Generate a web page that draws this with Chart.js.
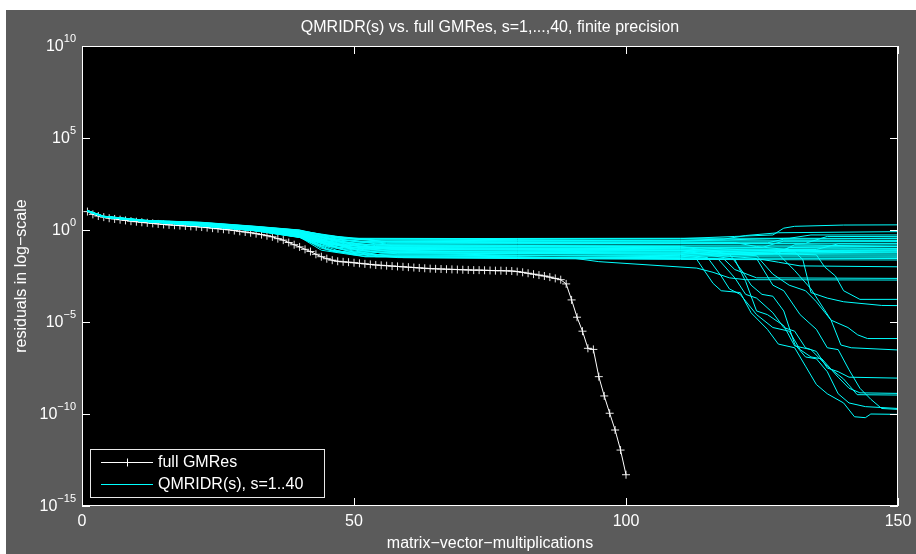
<!DOCTYPE html>
<html>
<head>
<meta charset="utf-8">
<script src="https://cdn.jsdelivr.net/npm/chart.js@4.4.1/dist/chart.umd.min.js"></script>
<style>
  html, body { margin: 0; padding: 0; background: #fff; }
  #wrap { width: 916px; height: 554px; }
</style>
</head>
<body>
<div id="wrap"><canvas id="chart" width="916" height="554"></canvas></div>
<script>
// texts
const titleText = 'QMRIDR(s) vs. full GMRes, s=1,...,40, finite precision';
const xLabelText = 'matrix\u2212vector\u2212multiplications';
const yLabelText = 'residuals in log\u2212scale';
const legendLabels = ['full GMRes', 'QMRIDR(s), s=1..40'];

// tick values
const xTicks = [0, 50, 100, 150];
const yTickExponents = [-15, -10, -5, 0, 5, 10];

// full GMRes, log10 of residual at x = 1..100
const gmresLog = [
  1.00, 0.85, 0.76, 0.70, 0.64, 0.60, 0.56, 0.52, 0.48, 0.45,
  0.42, 0.39, 0.36, 0.33, 0.30, 0.28, 0.26, 0.24, 0.22, 0.20,
  0.18, 0.16, 0.13, 0.10, 0.07, 0.04, 0.01, -0.03, -0.07, -0.11,
  -0.15, -0.20, -0.25, -0.31, -0.37, -0.47, -0.55, -0.68, -0.80, -0.92,
  -1.05, -1.17, -1.32, -1.45, -1.56, -1.64, -1.70, -1.73, -1.75, -1.78,
  -1.81, -1.84, -1.87, -1.90, -1.92, -1.94, -1.96, -1.98, -2.00, -2.02,
  -2.04, -2.06, -2.08, -2.10, -2.11, -2.12, -2.13, -2.14, -2.15, -2.16,
  -2.17, -2.18, -2.18, -2.19, -2.20, -2.21, -2.21, -2.22, -2.23, -2.26,
  -2.30, -2.35, -2.40, -2.45, -2.50, -2.56, -2.63, -2.70, -2.93, -3.80,
  -4.74, -5.50, -6.43, -6.49, -7.97, -9.02, -9.96, -10.87, -11.96, -13.30
];

// QMRIDR(s), s=1..40: [x, log10 residual]
const qmridrLog = [
  [[1,1.06],[4,0.75],[12,0.52],[22,0.42],[32,0.2],[40,0.0],[44,-0.25],[49,-0.45],[80,-0.47],[110,-0.47],[120,-0.35],[127,-0.27],[129,0.1],[131,0.2],[140,0.27],[150,0.28]],
  [[1,1.05],[4,0.74],[12,0.51],[22,0.4],[32,0.18],[40,-0.02],[45,-0.3],[51,-0.5],[80,-0.52],[110,-0.55],[118,-0.5],[122,-0.3],[128,-0.15],[150,-0.09]],
  [[1,1.05],[4,0.74],[12,0.5],[22,0.38],[32,0.15],[40,-0.05],[47,-0.35],[54,-0.55],[80,-0.58],[110,-0.6],[130,-0.45],[134,-0.27],[150,-0.27]],
  [[1,1.06],[4,0.75],[12,0.52],[22,0.41],[32,0.19],[40,-0.01],[43,-0.28],[48,-0.48],[80,-0.46],[110,-0.45],[150,-0.45]],
  [[1,1.05],[4,0.74],[12,0.5],[22,0.37],[32,0.14],[40,-0.07],[46,-0.4],[55,-0.6],[80,-0.58],[110,-0.56],[150,-0.55]],
  [[1,1.04],[4,0.73],[12,0.5],[22,0.36],[32,0.13],[40,-0.1],[48,-0.45],[57,-0.65],[80,-0.68],[110,-0.7],[126,-0.7],[129,-0.5],[150,-0.45]],
  [[1,1.04],[4,0.73],[12,0.49],[22,0.35],[32,0.11],[40,-0.12],[44,-0.5],[50,-0.7],[80,-0.68],[110,-0.65],[150,-0.63]],
  [[1,1.04],[4,0.73],[12,0.49],[22,0.34],[32,0.1],[40,-0.14],[47,-0.55],[56,-0.75],[80,-0.74],[110,-0.73],[150,-0.72]],
  [[1,1.04],[4,0.73],[12,0.49],[22,0.33],[32,0.09],[40,-0.17],[45,-0.6],[53,-0.8],[80,-0.81],[110,-0.82],[150,-0.82]],
  [[1,1.03],[4,0.72],[12,0.47],[22,0.27],[32,0.0],[40,-0.3],[49,-0.9],[58,-1.2],[80,-1.22],[110,-1.25],[128,-1.25],[131,-0.8],[150,-0.9]],
  [[1,1.04],[4,0.73],[12,0.48],[22,0.32],[32,0.07],[40,-0.2],[46,-0.65],[52,-0.9],[80,-0.93],[110,-0.96],[150,-0.99]],
  [[1,1.04],[4,0.72],[12,0.48],[22,0.31],[32,0.06],[40,-0.22],[48,-0.7],[55,-0.95],[80,-0.98],[110,-1.02],[150,-1.05]],
  [[1,1.03],[4,0.72],[12,0.48],[22,0.3],[32,0.05],[40,-0.24],[45,-0.75],[51,-1.0],[80,-1.05],[110,-1.1],[150,-1.13]],
  [[1,1.03],[4,0.72],[12,0.48],[22,0.29],[32,0.04],[40,-0.26],[47,-0.8],[57,-1.05],[80,-1.1],[110,-1.15],[150,-1.18]],
  [[1,1.03],[4,0.72],[12,0.47],[22,0.28],[32,0.02],[40,-0.28],[44,-0.85],[53,-1.1],[80,-1.15],[110,-1.2],[150,-1.23]],
  [[1,1.03],[4,0.72],[12,0.47],[22,0.27],[32,0.01],[40,-0.3],[49,-0.9],[56,-1.15],[80,-1.2],[110,-1.26],[150,-1.3]],
  [[1,1.03],[4,0.71],[12,0.47],[22,0.26],[32,0.0],[40,-0.32],[46,-0.95],[50,-1.2],[80,-1.27],[110,-1.32],[150,-1.36]],
  [[1,1.02],[4,0.71],[12,0.46],[22,0.25],[32,-0.02],[40,-0.35],[48,-1.02],[58,-1.3],[80,-1.35],[110,-1.39],[150,-1.42]],
  [[1,1.02],[4,0.71],[12,0.46],[22,0.24],[32,-0.03],[40,-0.37],[45,-1.07],[54,-1.35],[80,-1.4],[110,-1.45],[150,-1.48]],
  [[1,1.02],[4,0.71],[12,0.46],[22,0.23],[32,-0.04],[40,-0.39],[47,-1.12],[52,-1.45],[80,-1.5],[110,-1.53],[150,-1.55]],
  [[1,1.02],[4,0.71],[12,0.46],[22,0.22],[32,-0.05],[40,-0.4],[49,-1.15],[59,-1.5],[80,-1.55],[110,-1.6],[150,-1.63]],
  [[1,1.05],[4,0.74],[12,0.5],[22,0.37],[32,0.14],[40,-0.08],[44,-0.42],[51,-0.62],[80,-0.63],[110,-0.65],[120,-0.68],[124,-0.9],[131,-1.1],[150,-1.1]],
  [[1,1.04],[4,0.73],[12,0.49],[22,0.35],[32,0.12],[40,-0.11],[46,-0.48],[56,-0.7],[80,-0.71],[110,-0.72],[133,-0.72],[137,-0.35],[150,-0.36]],
  [[1,1.04],[4,0.73],[12,0.48],[22,0.32],[32,0.08],[40,-0.19],[48,-0.63],[53,-0.88],[80,-0.9],[110,-0.93],[125,-0.95],[129,-0.6],[150,-0.58]],
  [[1,1.03],[4,0.72],[12,0.48],[22,0.3],[32,0.05],[40,-0.23],[45,-0.74],[57,-1.0],[80,-1.02],[110,-1.04],[135,-1.06],[139,-0.75],[150,-0.75]],
  [[1,1.04],[4,0.73],[12,0.49],[22,0.33],[32,0.1],[40,-0.16],[47,-0.58],[50,-0.8],[80,-0.84],[110,-0.87],[150,-0.9]],
  [[1,1.03],[4,0.71],[12,0.47],[22,0.26],[32,-0.01],[40,-0.33],[49,-0.98],[55,-1.25],[80,-1.28],[110,-1.3],[127,-1.3],[130,-0.95],[150,-1.0]],
  [[1,1.02],[4,0.71],[12,0.46],[22,0.22],[32,-0.05],[40,-0.41],[46,-1.16],[58,-1.5],[80,-1.53],[110,-1.56],[125,-1.6],[128,-1.75],[132,-1.95],[150,-2.0]],
  [[1,1.02],[4,0.71],[12,0.46],[22,0.23],[32,-0.04],[40,-0.38],[44,-1.1],[52,-1.45],[80,-1.48],[110,-1.5],[118,-1.58],[120,-2.15],[124,-2.6],[150,-2.63]],
  [[1,1.02],[4,0.71],[12,0.46],[22,0.24],[32,-0.03],[40,-0.36],[48,-1.05],[56,-1.4],[80,-1.45],[90,-1.52],[95,-1.72],[113,-2.07],[116,-2.3],[119,-2.6],[122,-2.7],[150,-2.72]],
  [[1,1.04],[4,0.72],[12,0.48],[22,0.31],[32,0.06],[40,-0.21],[45,-0.7],[49,-0.95],[80,-1.0],[110,-1.1],[135,-1.35],[136.5,-2.0],[138.5,-2.5],[140,-3.3],[143,-3.77],[150,-3.77]],
  [[1,1.04],[4,0.73],[12,0.49],[22,0.33],[32,0.08],[40,-0.18],[47,-0.6],[54,-0.85],[80,-0.88],[110,-0.92],[131,-1.2],[132.5,-1.6],[134,-3.4],[137,-3.7],[140,-3.9],[147,-4.1],[150,-4.11]],
  [[1,1.04],[4,0.72],[12,0.48],[22,0.31],[32,0.06],[40,-0.21],[46,-0.7],[53,-0.95],[80,-0.98],[110,-1.02],[128,-1.3],[131,-2.2],[134,-3.2],[137.7,-4.9],[140.8,-5.3],[142.6,-5.7],[144.4,-5.9],[150,-5.9]],
  [[1,1.03],[4,0.72],[12,0.48],[22,0.29],[32,0.03],[40,-0.25],[48,-0.8],[57,-1.05],[80,-1.08],[110,-1.12],[124,-1.4],[127,-2.4],[130,-3.0],[133,-3.3],[135,-3.9],[137.7,-4.9],[139.5,-6.25],[141.4,-6.4],[150,-6.52]],
  [[1,1.02],[4,0.71],[12,0.46],[22,0.25],[32,-0.02],[40,-0.35],[44,-1.0],[50,-1.35],[80,-1.38],[110,-1.42],[117,-1.6],[120,-2.6],[122,-3.5],[124,-3.7],[127,-4.5],[129,-5.3],[131,-5.5],[133,-6.4],[135,-6.6],[137,-7.5],[139,-7.7],[141,-8.0],[150,-8.05]],
  [[1,1.03],[4,0.71],[12,0.47],[22,0.26],[32,0.0],[40,-0.31],[47,-0.92],[55,-1.25],[80,-1.28],[110,-1.32],[115,-1.5],[117.5,-2.5],[119,-3.2],[121,-3.5],[124,-4.6],[127,-5.3],[130,-5.5],[132,-6.5],[134,-6.9],[136,-7.0],[139,-8.0],[141,-8.6],[143,-8.85],[150,-8.88]],
  [[1,1.04],[4,0.72],[12,0.48],[22,0.3],[32,0.05],[40,-0.23],[45,-0.76],[52,-1.05],[80,-1.07],[110,-1.1],[120,-1.6],[122,-2.8],[124,-4.4],[126,-4.6],[129,-5.2],[131,-6.3],[134,-6.5],[137,-7.4],[140,-8.1],[142.5,-8.95],[150,-8.97]],
  [[1,1.04],[4,0.73],[12,0.49],[22,0.33],[32,0.09],[40,-0.17],[49,-0.58],[57,-0.85],[80,-0.87],[110,-0.9],[119,-1.3],[121.5,-2.3],[123,-3.0],[125,-3.5],[127,-3.6],[129,-4.4],[131,-6.2],[133,-6.9],[135,-7.0],[137,-7.7],[139,-8.9],[141,-9.4],[144,-9.6],[150,-9.7]],
  [[1,1.02],[4,0.71],[12,0.46],[22,0.23],[32,-0.04],[40,-0.38],[46,-1.1],[54,-1.45],[80,-1.5],[110,-1.55],[113,-1.6],[116,-2.9],[117.5,-3.3],[121,-3.4],[123,-4.5],[126,-5.4],[128,-6.2],[131,-6.4],[133,-7.4],[135,-8.4],[137,-8.9],[140,-9.4],[142,-10.15],[144,-10.2],[145,-10.0],[150,-10.02]],
  [[1,1.03],[4,0.72],[12,0.47],[22,0.28],[32,0.02],[40,-0.27],[48,-0.85],[51,-1.15],[80,-1.18],[110,-1.2],[124,-1.55],[127,-3.0],[129,-3.3],[132,-4.6],[135,-5.4],[137,-6.4],[139,-6.5],[141,-7.6],[143,-8.6],[145,-9.2],[147,-9.7],[150,-9.75]]
];

const FONT = '"Liberation Sans", Arial, Helvetica, sans-serif';
const textColor = '#ffffff';
const gmresColor = '#ffffff';
const qmrColor = '#00ffff';

const datasets = qmridrLog.map((pts) => ({
  label: legendLabels[1],
  data: pts.map(p => ({ x: p[0], y: Math.pow(10, p[1]) })),
  borderColor: qmrColor,
  borderWidth: 1,
  pointRadius: 0,
  tension: 0,
  order: 0
}));
datasets.push({
  label: legendLabels[0],
  data: gmresLog.map((e, i) => ({ x: i + 1, y: Math.pow(10, e) })),
  borderColor: gmresColor,
  borderWidth: 1,
  pointStyle: 'cross',
  pointRadius: 4,
  pointBorderColor: 'rgba(255,255,255,0.9)',
  pointBorderWidth: 1,
  tension: 0,
  order: 1
});

// MATLAB-like frame: gray figure, black axes, inside ticks, superscript labels, boxed legend
const matlabFrame = {
  id: 'matlabFrame',
  beforeDraw(chart) {
    const { ctx, chartArea: a } = chart;
    ctx.save();
    ctx.fillStyle = '#ffffff';
    ctx.fillRect(0, 0, chart.width, chart.height);
    ctx.fillStyle = '#5b5b5b';
    ctx.fillRect(6, 10, chart.width - 6, chart.height - 10);
    ctx.fillStyle = '#000000';
    ctx.fillRect(a.left, a.top, a.right - a.left, a.bottom - a.top);
    ctx.restore();
  },
  afterDraw(chart) {
    const { ctx, chartArea: a } = chart;
    const xs = chart.scales.x, ys = chart.scales.y;
    ctx.save();
    // box
    ctx.strokeStyle = '#ffffff';
    ctx.lineWidth = 1;
    ctx.strokeRect(a.left + 0.5, a.top + 0.5, a.right - a.left - 1, a.bottom - a.top - 1);
    // ticks
    ctx.beginPath();
    yTickExponents.forEach(e => {
      const y = Math.round(ys.getPixelForValue(Math.pow(10, e))) + 0.5;
      ctx.moveTo(a.left, y); ctx.lineTo(a.left + 8, y);
      ctx.moveTo(a.right, y); ctx.lineTo(a.right - 8, y);
    });
    xTicks.forEach(v => {
      const x = Math.round(xs.getPixelForValue(v)) + 0.5;
      ctx.moveTo(x, a.bottom); ctx.lineTo(x, a.bottom - 8);
      ctx.moveTo(x, a.top); ctx.lineTo(x, a.top + 8);
    });
    ctx.stroke();

    ctx.fillStyle = textColor;
    // x tick labels
    ctx.font = '16px ' + FONT;
    ctx.textAlign = 'center';
    ctx.textBaseline = 'middle';
    xTicks.forEach(v => {
      ctx.fillText(String(v), xs.getPixelForValue(v), a.bottom + 16);
    });
    // y tick labels 10^e
    yTickExponents.forEach(e => {
      const y = ys.getPixelForValue(Math.pow(10, e));
      const ex = (e < 0 ? '\u2212' : '') + Math.abs(e);
      ctx.font = '11px ' + FONT;
      const ew = ctx.measureText(ex).width;
      const right = a.left - 6;
      ctx.textAlign = 'left';
      ctx.fillText(ex, right - ew, y - 7);
      ctx.font = '16px ' + FONT;
      ctx.textAlign = 'right';
      ctx.fillText('10', right - ew, y + 1);
    });
    // title and axis labels
    ctx.font = '16px ' + FONT;
    ctx.textAlign = 'center';
    const cx = (a.left + a.right) / 2;
    ctx.fillText(titleText, cx, 28);
    ctx.fillText(xLabelText, cx, 544);
    ctx.save();
    ctx.translate(22, (a.top + a.bottom) / 2);
    ctx.rotate(-Math.PI / 2);
    ctx.fillText(yLabelText, 0, 0);
    ctx.restore();

    // legend
    const lx = 90.5, ly = 449.5, lw = 234, lh = 48;
    ctx.fillStyle = '#000000';
    ctx.fillRect(lx, ly, lw, lh);
    ctx.strokeStyle = '#e8e8e8';
    ctx.strokeRect(lx, ly, lw, lh);
    const rows = [
      { y: 462.5, color: gmresColor, marker: true, text: legendLabels[0] },
      { y: 484.5, color: qmrColor, marker: false, text: legendLabels[1] }
    ];
    rows.forEach(r => {
      ctx.strokeStyle = r.color;
      ctx.beginPath();
      ctx.moveTo(101, r.y); ctx.lineTo(153, r.y);
      if (r.marker) {
        ctx.moveTo(127.5, r.y - 4); ctx.lineTo(127.5, r.y + 4);
        ctx.moveTo(123, r.y); ctx.lineTo(132, r.y);
      }
      ctx.stroke();
      ctx.fillStyle = textColor;
      ctx.font = '16px ' + FONT;
      ctx.textAlign = 'left';
      ctx.textBaseline = 'middle';
      ctx.fillText(r.text, 158, r.y);
    });
    ctx.restore();
  }
};

new Chart(document.getElementById('chart').getContext('2d'), {
  type: 'line',
  data: { datasets },
  options: {
    responsive: false,
    animation: false,
    layout: { padding: { left: 82, top: 46, right: 18, bottom: 48 } },
    scales: {
      x: { type: 'linear', min: 0, max: 150, display: false },
      y: { type: 'logarithmic', min: 1e-15, max: 1e10, display: false }
    },
    plugins: {
      legend: { display: false },
      tooltip: { enabled: false }
    }
  },
  plugins: [matlabFrame]
});
</script>
</body>
</html>
